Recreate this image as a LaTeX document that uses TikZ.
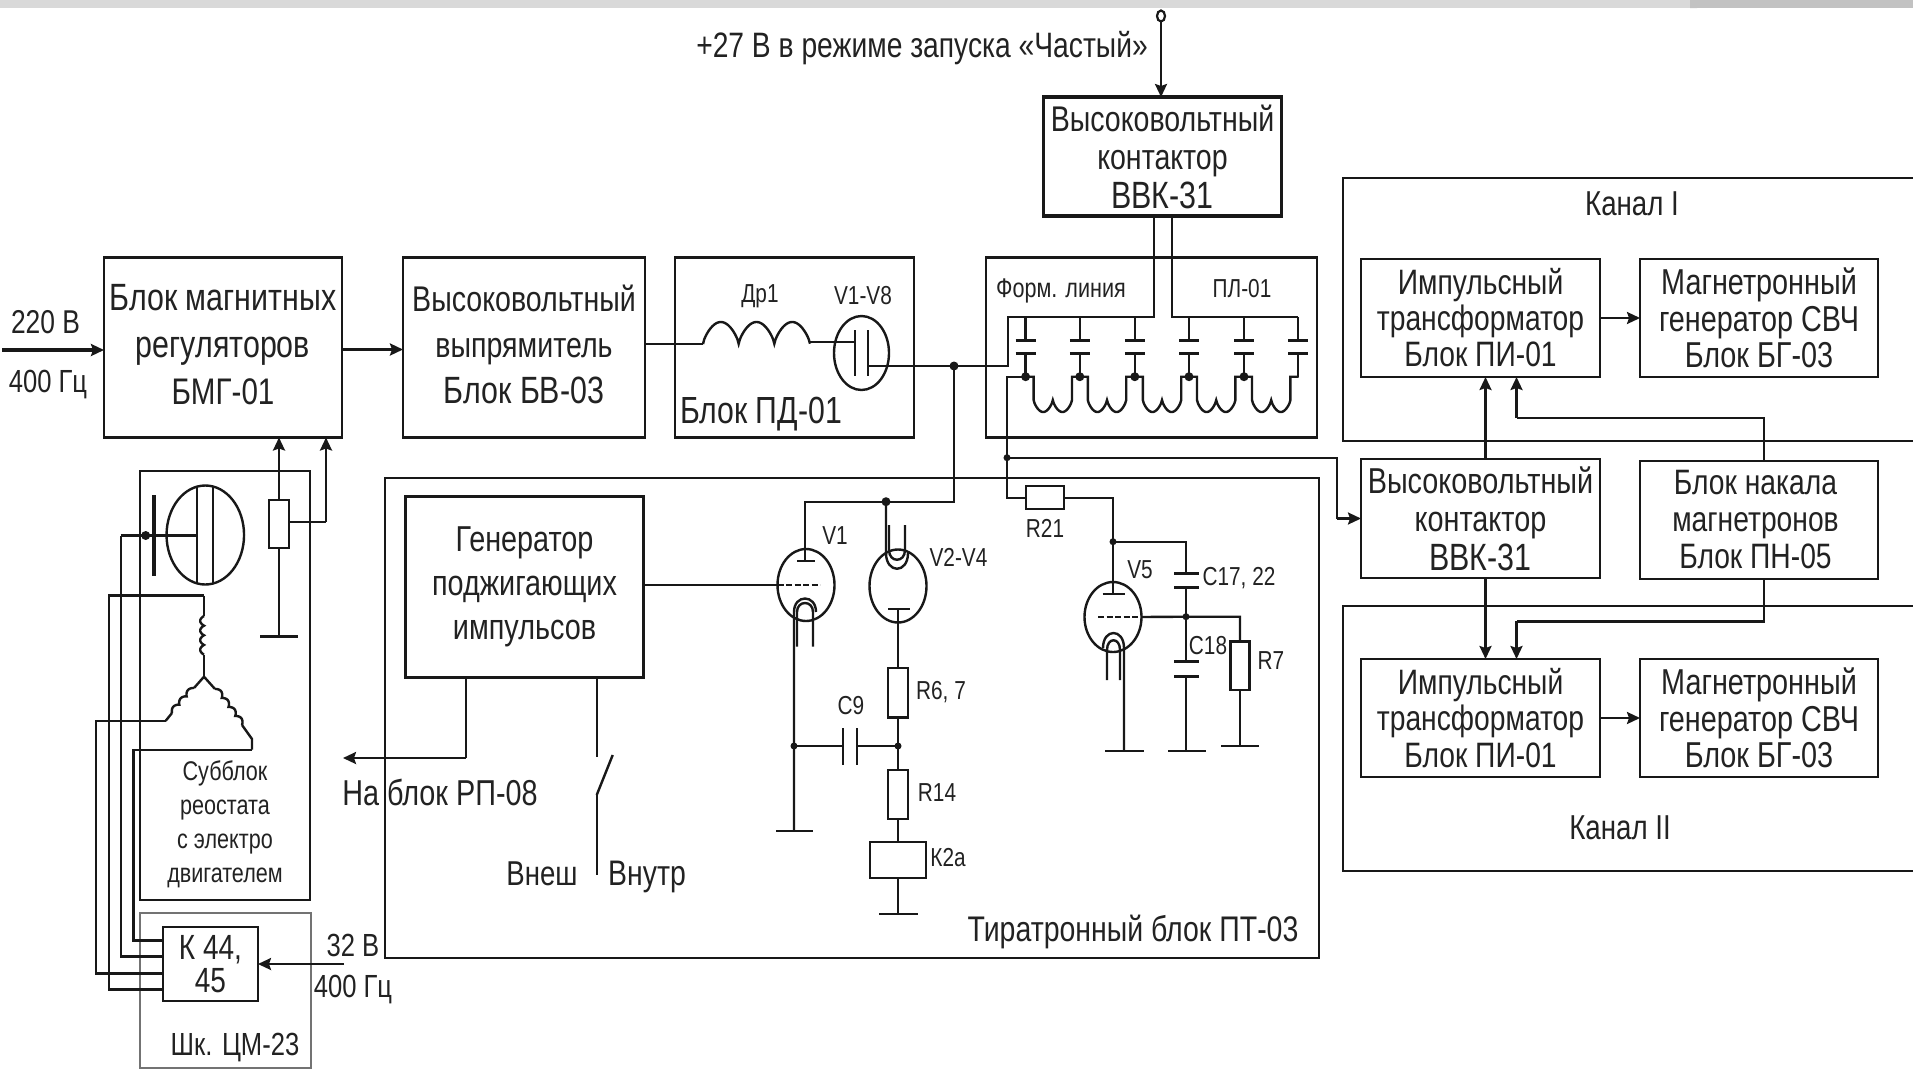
\documentclass[tikz,border=0pt]{standalone}
\usepackage{fontspec}
\setmainfont{Liberation Sans}[FakeStretch=0.8]
\usetikzlibrary{arrows.meta,shapes.geometric,calc}
\definecolor{ink}{HTML}{181818}
\definecolor{txt}{HTML}{222222}
\newcommand{\myf}[2]{\fontsize{#1}{#2}\selectfont}
% coil along a segment: (ax,ay) (bx,by) humps amplitude-normal nx ny
\newcommand{\mycoil}[7]{plot[domain=0:1,samples=61,smooth,variable=\t] ({#1+\t*(#3-#1)+#6*#5*abs(sin(180*#5*\t))^0.8*0.5},{#2+\t*(#4-#2)+#7*#5*abs(sin(180*#5*\t))^0.8*0.5})}
\tikzset{
  wire/.style={draw=ink,line width=2.4pt,line join=miter},
  plate/.style={draw=ink,line width=3pt},
  arr/.style={wire,-{Stealth[length=13pt,width=12pt,inset=2pt]}},
  arrb/.style={arr,line width=3.2pt},
  blk/.style={draw=ink,line width=2.7pt,inner sep=0pt,outer sep=0pt,align=center,text=txt},
  blktext/.style={inner sep=0pt,outer sep=0pt,align=center,text=txt},
  res/.style={draw=ink,line width=2.4pt,inner sep=0pt,outer sep=0pt,minimum width=#1},
  tube/.style={ellipse,draw=ink,line width=2.4pt,inner sep=0pt,outer sep=0pt,minimum width=57pt,minimum height=72pt},
  lab/.style={inner sep=0pt,outer sep=0pt,text=txt,text height=#1*0.72pt,text depth=0pt,font=\myf{#1}{#1}},
  lab/.default=26,
  gridline/.style={draw=ink,line width=2.2pt,dash pattern=on 6pt off 2.5pt}
}
\begin{document}
\begin{tikzpicture}[x=1pt,y=-1pt]
\useasboundingbox (0,0) rectangle (1913,1069);
\fill[white] (0,0) rectangle (1913,1069);
% top strip
\fill[black!15] (0,0) rectangle (1690,8);
\fill[black!24] (1690,0) -- (1693,0) -- (1697,8) -- (1690,8) -- cycle;
\fill[black!24] (1693,0) rectangle (1913,8);

% ---- main blocks
\node[blk,minimum width=238pt,minimum height=180pt] (bmg) at (223,347.5) {};
\node[blktext,font=\myf{38}{47}] (bmgt) at (223,345) {Блок магнитных\\регуляторов\\{\myf{37}{47}БМГ-01}};
\node[blk,minimum width=242pt,minimum height=180pt] (bv) at (524,347.5) {};
\node[blktext,font=\myf{35.7}{46}] (bvt) at (524,344) {Высоковольтный\\выпрямитель\\{\myf{38}{46}Блок БВ-03}};
\node[blk,minimum width=239pt,minimum height=180pt] (pd) at (794.5,347.5) {};
\node[blk,minimum width=331pt,minimum height=180pt] (form) at (1151.5,347.5) {};
\node[blk,minimum width=238pt,minimum height=119pt,font=\myf{35.7}{38.5},line width=3.2pt] (vvkt) at (1162.5,156.5) {Высоковольтный\\контактор\\{\myf{38}{38.5}ВВК-31}};
\node[blk,minimum width=934pt,minimum height=480pt] (pt) at (852,718) {};
\node[blk,minimum width=238pt,minimum height=181pt,font=\myf{36}{44}] (gen) at (524.5,587) {Генератор\\поджигающих\\импульсов};
\node[blk,minimum width=170pt,minimum height=429pt] (sub) at (225,685.5) {};
\node[blk,draw=black!55,line width=2pt,minimum width=171pt,minimum height=155pt] (cm) at (225.5,990) {};
\node[blk,minimum width=95pt,minimum height=74pt,font=\myf{35}{33}] (k) at (210.5,964) {К 44,\\45};

\node[blk,minimum width=239pt,minimum height=118pt,font=\myf{35.3}{36}] (ip1) at (1480.5,318) {Импульсный\\трансформатор\\Блок ПИ-01};
\node[blk,minimum width=238pt,minimum height=118pt,font=\myf{36}{36.5}] (mg1) at (1759,318) {Магнетронный\\генератор СВЧ\\Блок БГ-03};
\node[blk,minimum width=239pt,minimum height=119pt,font=\myf{36}{38.5}] (vvkb) at (1480.5,518.5) {Высоковольтный\\контактор\\{\myf{38}{38.5}ВВК-31}};
\node[blk,minimum width=238pt,minimum height=118pt] (nak) at (1759,520) {};
\node[blktext,font=\myf{35.3}{37}] (nakt) at (1755.5,520) {Блок накала\\магнетронов\\Блок ПН-05};
\node[blk,minimum width=239pt,minimum height=118pt,font=\myf{35.3}{36.5}] (ip2) at (1480.5,718) {Импульсный\\трансформатор\\Блок ПИ-01};
\node[blk,minimum width=238pt,minimum height=118pt,font=\myf{36}{36.5}] (mg2) at (1759,718) {Магнетронный\\генератор СВЧ\\Блок БГ-03};

% channels (open to the right)
\draw[draw=ink,line width=2.7pt] (1913,178) -- (1343,178) -- (1343,441) -- (1913,441);
\draw[draw=ink,line width=2.7pt] (1913,606) -- (1343,606) -- (1343,871) -- (1913,871);
\node[lab=34.6] (kan1) at (1632,203) {Канал I};
\node[lab=34.6] (kan2) at (1620,827) {Канал II};

% ---- top input
\node[ellipse,draw=ink,line width=2.2pt,minimum width=8pt,minimum height=11pt,inner sep=0pt,outer sep=0pt] (inp) at (1161,16) {};
\draw[arr] (inp) -- (inp |- vvkt.north);
\node[lab=35.3] (t27) at (922,45) {+27 В в режиме запуска «Частый»};

% ---- input, chain
\coordinate (in220) at (2,350);
\draw[arrb] (in220) -- (in220 -| bmg.west);
\node[lab=33] (v220) at (45.5,322) {220 В};
\node[lab=32] (f400) at (48,381) {400 Гц};
\coordinate (ch1) at (342,349.5);
\draw[arrb] (ch1) -- (ch1 -| bv.west);

% ---- ПД-01
\coordinate (indA) at (703,344);
\coordinate (indB) at (810,342);
\draw[wire] (bv.east |- indA) -- (indA);
\draw[wire] plot[domain=0:3,samples=91,variable=\t] ({703+35.67*\t},{344-22*abs(sin(180*\t))^0.7});
\node[ellipse,draw=ink,line width=2.4pt,minimum width=55pt,minimum height=74pt,inner sep=0pt,outer sep=0pt] (dio) at (861.5,353) {};
\draw[wire] (indB) -- (855,342);
\draw[plate,line width=2.4pt] (855,330) -- (855,376);
\draw[plate,line width=2.4pt] (868,330) -- (868,376);
\node[lab] (dr1) at (760,293) {Др1};
\node[lab] (v18) at (863,295) {V1-V8};
\node[lab=37.8] (bpd) at (761,410) {Блок ПД-01};

% ---- формирующая линия
\coordinate (jA) at (954,366);
\coordinate (fa) at (1008,317);
\coordinate (l1) at (1154,317);
\coordinate (l2) at (1172,317);
\coordinate (fe) at (1298,317);
\draw[wire] (868,366) -- (jA) -- (jA -| fa) -- (fa) -- (l1) -- (l1 |- vvkt.south);
\draw[wire] (l2 |- vvkt.south) -- (l2) -- (fe);
\node[lab=27] (forml) at (1061,288) {Форм. линия};
\node[lab] (pl01) at (1242,288) {ПЛ-01};
\foreach \c in {1025.6,1079.8,1134.8,1189,1244,1298}{
  \draw[wire] (\c,317) -- (\c,340.7);
  \draw[plate] (\c-10,340.7) -- (\c+10,340.7);
  \draw[plate] (\c-10,353.3) -- (\c+10,353.3);
  \draw[wire] (\c,353.3) -- (\c,376.7);
}
\foreach \c in {1025.6,1079.8,1134.8,1189,1244}{
  \fill[ink] (\c,376.7) circle[radius=4.5pt];
  \draw[wire] (\c,376.7) -- (\c+8,376.7) -- (\c+8,400)
     plot[domain=0:2,samples=41,variable=\t] ({\c+8+19.2*\t},{400+12*abs(sin(180*\t))^0.7})
     -- (\c+46.4,376.7) -- (\c+54.5,376.7);
}
\coordinate (fb) at (1007,376.7);
\coordinate (jB) at (1007,457.7);
\draw[wire] (1025.6,376.7) -- (fb) -- (jB);
\node[res=38pt,minimum height=23pt] (r21) at (1045,497.7) {};
\draw[wire] (jB) -- (jB |- r21.west) -- (r21.west);
\node[lab] (lr21) at (1045,528) {R21};
\coordinate (jC) at (1337,457.7);
\draw[wire] (jB) -- (jC) -- (jC |- vvkb.west);
\draw[arr] (jC |- vvkb.west) -- (vvkb.west);
\fill[ink] (jB) circle[radius=3.5pt];
\fill[ink] (jA) circle[radius=4.5pt];

% ---- V1, V2-V4
\coordinate (jD) at (954,501.7);
\coordinate (jE) at (886,501.7);
\draw[wire] (jA) -- (jD) -- (805,501.7) -- (805,560.7);
\fill[ink] (jE) circle[radius=4.5pt];
\node[tube] (v1) at (806,585) {};
\draw[plate,line width=2.4pt] (797,560.7) -- (815,560.7);
\draw[wire] (gen.east |- v1.west) -- (v1.west);
\draw[gridline] (v1.west) -- (820,585);
\draw[wire] (797,646.7) -- (797,612) .. controls (797,600) and (813,600) .. (813,612) -- (813,646.7);
\draw[wire] (794,830.7) -- (794,612) .. controls (794,594) and (816,594) .. (816,612);
\draw[wire] (776,830.7) -- (813,830.7);
\node[lab] (lv1) at (835,535) {V1};

\node[tube,minimum height=73pt] (v2) at (898,586) {};
\draw[wire] (jE) -- (886,553) .. controls (886,574) and (908,574) .. (908,553);
\draw[wire] (889,525) -- (889,550) .. controls (889,563) and (905,563) .. (905,550) -- (905,525);
\draw[plate,line width=2.4pt] (888,609) -- (910,609);
\node[res=20pt,minimum height=49.7pt] (r6) at (898,692.8) {};
\node[res=20pt,minimum height=49pt] (r14) at (898,794.5) {};
\node[res=56pt,minimum height=36pt] (k2) at (898,860) {};
\coordinate (jF) at (898,746);
\coordinate (jG) at (794,746);
\draw[wire] (898,609) -- (r6.north);
\draw[wire] (r6.south) -- (jF) -- (r14.north);
\draw[wire] (r14.south) -- (k2.north);
\coordinate (g2) at (898,914);
\draw[wire] (k2.south) -- (g2);
\draw[wire] (879,914) -- (917.5,914);
\draw[wire] (jG) -- (843,746);
\draw[wire] (857,746) -- (jF);
\draw[wire] (843,728) -- (843,765);
\draw[wire] (857,728) -- (857,765);
\fill[ink] (jF) circle[radius=3.5pt];
\fill[ink] (jG) circle[radius=3.5pt];
\node[lab] (lv2) at (958.5,557) {V2-V4};
\node[lab] (lr6) at (941,690) {R6, 7};
\node[lab] (lc9) at (851,705) {C9};
\node[lab] (lr14) at (937,792.5) {R14};
\node[lab] (lk2) at (948,857.5) {К2а};

% ---- V5
\coordinate (jH) at (1113,541.7);
\coordinate (jI) at (1186,616.7);
\node[tube,minimum height=70pt] (v5) at (1113,617) {};
\draw[wire] (r21.east) -- (r21.east -| jH) -- (jH) -- (1113,594);
\draw[plate,line width=2.4pt] (1102.5,594) -- (1125,594);
\draw[gridline] (1098,617) -- (v5.east);
\draw[wire] (v5.east) -- (jI) -- (1240,616.7) -- (1240,641.7);
\draw[wire] (1107,680) -- (1107,650) .. controls (1107,637) and (1120,637) .. (1120,650) -- (1120,680);
\draw[wire] (1124,751) -- (1124,648) .. controls (1124,628) and (1103,628) .. (1103,648);
\draw[wire] (1105,751) -- (1143.5,751);
\draw[wire] (jH) -- (1186,541.7) -- (1186,573);
\draw[plate] (1174,573) -- (1199,573);
\draw[plate] (1174,587) -- (1199,587);
\draw[wire] (1186,587) -- (jI) -- (1186,661);
\draw[plate] (1174,661) -- (1199,661);
\draw[plate] (1174,676.7) -- (1199,676.7);
\draw[wire] (1186,676.7) -- (1186,751);
\draw[wire] (1168,751) -- (1206,751);
\node[res=19pt,minimum height=48.3pt] (r7) at (1240,665.8) {};
\draw[wire] (r7.south) -- (1240,746);
\draw[wire] (1221,746) -- (1258.5,746);
\fill[ink] (jH) circle[radius=3.5pt];
\fill[ink] (jI) circle[radius=3.5pt];
\node[lab] (lv5) at (1140,569) {V5};
\node[lab] (lc17) at (1239,576.5) {C17, 22};
\node[lab] (lc18) at (1208,645) {C18};
\node[lab] (lr7) at (1271,660.5) {R7};
\node[lab=35.6] (lpt) at (1133,929) {Тиратронный блок ПТ-03};

% ---- генератор выходы
\coordinate (gA) at (466,758);
\coordinate (gB) at (343,758);
\draw[wire] (gA |- gen.south) -- (gA);
\draw[arr] (gA) -- (gB);
\node[lab=36] (nabl) at (440,793) {На блок РП-08};
\coordinate (sA) at (596.7,756.7);
\coordinate (sB) at (596.7,795);
\coordinate (sC) at (612.7,755);
\coordinate (sD) at (596.7,875);
\draw[wire] (sA |- gen.south) -- (sA);
\draw[wire] (sB) -- (sC);
\draw[wire] (sB) -- (sD);
\node[lab=34.5] (vnesh) at (542,873) {Внеш};
\node[lab=35.5] (vnut) at (647,873) {Внутр};

% ---- регулятор/реостат
\node[ellipse,draw=ink,line width=2.4pt,minimum width=77.5pt,minimum height=99pt,inner sep=0pt,outer sep=0pt] (mot) at (205.3,535) {};
\draw[wire] (197,487) -- (197,583);
\draw[wire] (213,487) -- (213,583);
\draw[plate,line width=4pt] (154,495) -- (154,575.6);
\coordinate (mA) at (120.7,535.5);
\draw[wire] (mA) -- (197,535.5);
\fill[ink] (145.7,535.5) circle[radius=4.5pt];

\node[res=20pt,minimum height=48pt] (pot) at (279,524) {};
\coordinate (gP) at (279,636.5);
\draw[arr] (pot.north) -- (pot.north |- bmg.south);
\draw[wire] (pot.south) -- (gP);
\draw[wire] (260,636.5) -- (298,636.5);
\coordinate (wP) at (326,522);
\draw[wire] (pot.east |- wP) -- (wP);
\draw[arr] (wP) -- (wP |- bmg.south);

% обмотки
\coordinate (st) at (204,676.7);
\coordinate (stT) at (204,595.6);
\coordinate (stL) at (165.7,720.8);
\coordinate (stR) at (252,739);
\draw[wire] (stT) -- (204,616);
\draw[wire] \mycoil{204}{616}{204}{654.6}{4}{-1.9}{0};
\draw[wire] (204,654.6) -- (st);
\draw[wire] (st) -- (194,688);
\draw[wire] \mycoil{194}{688}{172}{713}{3}{-1.6}{-1.4};
\draw[wire] (172,713) -- (stL);
\draw[wire] (st) -- (215,689);
\draw[wire] \mycoil{215}{689}{242}{725}{4}{1.4}{-1.1};
\draw[wire] (242,725) -- (stR) -- (252,749.7);
% провода к К 44,45
\coordinate (w0) at (133.3,940.6);
\coordinate (w1) at (133.3,749.7);
\coordinate (w2) at (120.7,956.6);
\coordinate (w3) at (96,973.5);
\coordinate (w4) at (108.7,989.5);
\draw[wire] (252,749.7) -- (w1) -- (w0) -- (w0 -| k.west);
\draw[wire] (mA) -- (w2) -- (w2 -| k.west);
\draw[wire] (stL) -- (96,720.8) -- (w3) -- (w3 -| k.west);
\draw[wire] (stT) -- (108.7,595.6) -- (w4) -- (w4 -| k.west);

\node[lab=27] (s1) at (225,771) {Субблок};
\node[lab=27] (s2) at (225,805) {реостата};
\node[lab=27] (s3) at (225,839) {с электро};
\node[lab=27] (s4) at (225,873) {двигателем};

\coordinate (in32) at (344,964);
\draw[arr] (in32) -- (in32 -| k.east);
\node[lab=32] (v32) at (353,945) {32 В};
\node[lab=32] (f32) at (353,986) {400 Гц};
\node[lab=32] (cm23) at (235,1044) {Шк. ЦМ-23};

% ---- каналы
\draw[arr] (ip1.east) -- (mg1.west);
\draw[arr] (ip2.east) -- (mg2.west);
\coordinate (c1) at (1485.5,500);
\coordinate (c2) at (1516.5,500);
\coordinate (c3) at (1764,418);
\coordinate (c4) at (1764,621.4);
\draw[arr] (c1 |- vvkb.north) -- (c1 |- ip1.south);
\draw[arr] (c1 |- vvkb.south) -- (c1 |- ip2.north);
\draw[wire] (c3 |- nak.north) -- (c3) -- (c3 -| c2);
\draw[arr] (c3 -| c2) -- (c2 |- ip1.south);
\draw[wire] (c4 |- nak.south) -- (c4) -- (c4 -| c2);
\draw[arr] (c4 -| c2) -- (c2 |- ip2.north);
\end{tikzpicture}
\end{document}
